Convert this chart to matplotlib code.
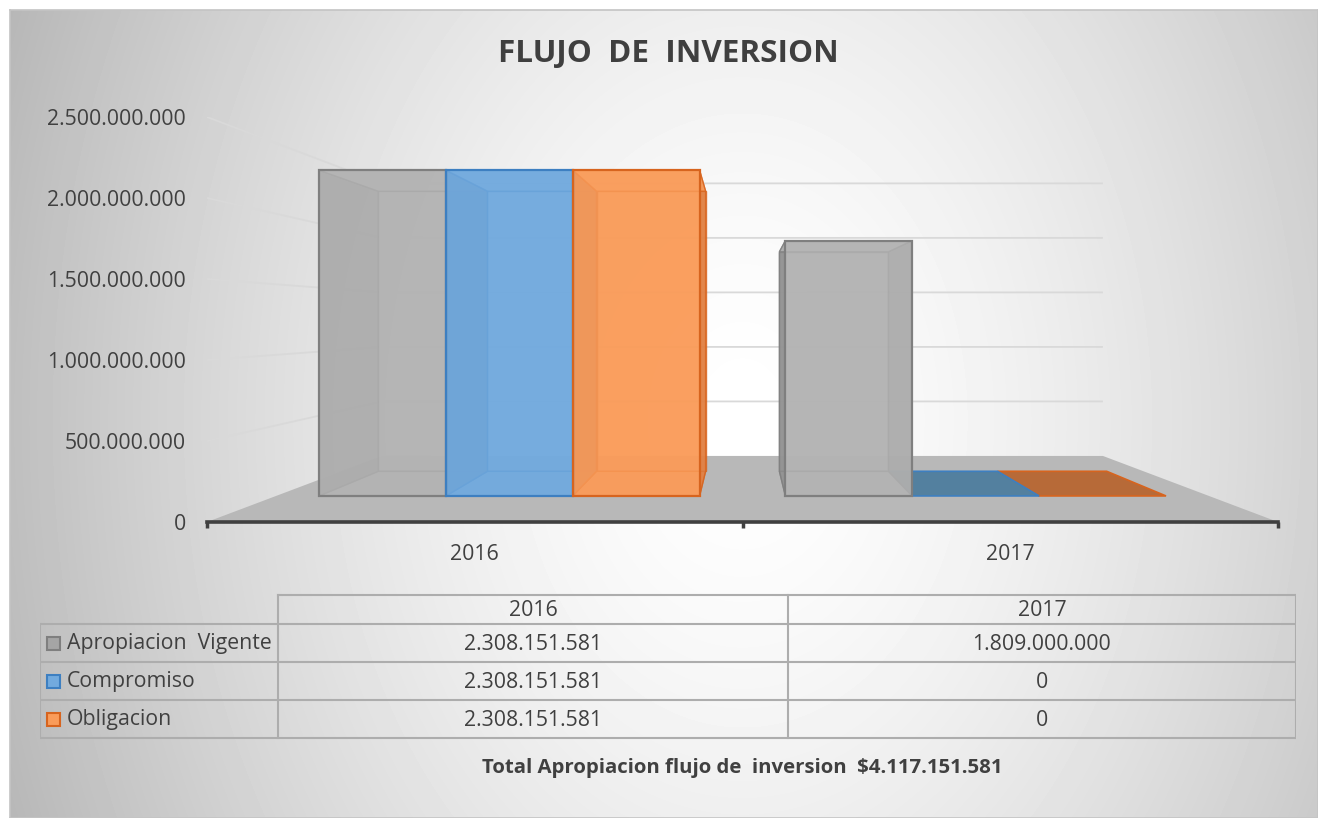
import numpy as np
import matplotlib
matplotlib.use("Agg")
import matplotlib.pyplot as plt
from matplotlib.patches import Polygon, Rectangle
from matplotlib.ticker import FuncFormatter

plt.rcParams["font.family"] = ["Open Sans", "DejaVu Sans"]

# data
years = ["2016", "2017"]
series = ["Apropiacion  Vigente", "Compromiso", "Obligacion"]
apropiacion = [2308151581, 1809000000]
compromiso = [2308151581, 0]
obligacion = [2308151581, 0]
y_ticks = [0, 500000000, 1000000000, 1500000000, 2000000000, 2500000000]
title = "FLUJO  DE  INVERSION"
total_text = "Total Apropiacion flujo de  inversion  $4.117.151.581"

values = [apropiacion, compromiso, obligacion]

# colours per series
face_c = ["#b3b3b3", "#72aade", "#fa9c5a"]
side_c = ["#8c8c8c", "#5b90c6", "#dc7c40"]
flat_c = ["#a5a5a5", "#53809f", "#b76a38"]
edge_c = ["#7f7f7f", "#3d7fc1", "#d7641e"]
text_c = "#404040"

W, H = 1318, 818
fig = plt.figure(figsize=(W / 100, H / 100), dpi=100)


def px(x0, y0, x1, y1):
    # pixel box (top-left origin) -> figure fraction rect
    return [x0 / W, 1 - y1 / H, (x1 - x0) / W, (y1 - y0) / H]


def dots(v, pos=None):
    return f"{int(v):,}".replace(",", ".")


# radial gradient background
bg = fig.add_axes(px(10, 10, W, H))
gx, gy = np.meshgrid(np.arange(10, W), np.arange(10, H))
r = np.sqrt(((gx - 742) / 660.0) ** 2 + ((gy - 420) / 900.0) ** 2)
shade = np.clip(255 - 55 * r ** 1.5, 0, 255) / 255.0
bg.imshow(shade, cmap="gray", vmin=0, vmax=1, aspect="auto")
bg.set_xticks([])
bg.set_yticks([])
for sp in bg.spines.values():
    sp.set_color("#c4c4c4")
    sp.set_linewidth(1.2)

# chart axes: front plane of the floor, 0 at the axis line
ax = fig.add_axes(px(207, 117, 1278, 522))
ax.set_xlim(-0.5, 1.5)
ax.set_ylim(0, 2500000000)
ax.patch.set_alpha(0)

# simple perspective: shrink towards a vanishing point
VX, VY = 0.5, 1.247e9
S_BAR_FRONT, S_BAR_BACK, S_WALL = 0.871, 0.749, 0.673
BAR_W = 0.272


def proj(x, v, s):
    return (VX + s * (x - VX), VY + s * (v - VY))


# floor
floor = [proj(-0.5, 0, 1), proj(1.5, 0, 1), proj(1.5, 0, S_WALL), proj(-0.5, 0, S_WALL)]
ax.add_patch(Polygon(floor, closed=True, fc="#b8b8b8", ec="none", zorder=1))

# gridlines: left side then along the back wall
for v in y_ticks[1:]:
    pts = np.array([proj(-0.5, v, 1), proj(-0.5, v, S_WALL), proj(1.5, v, S_WALL)])
    ax.plot(pts[:, 0], pts[:, 1], color="#d9d9d9", lw=1.3, zorder=2, solid_capstyle="butt")


def draw_bar(x0, v, i):
    x1 = x0 + BAR_W
    sf, sb = S_BAR_FRONT, S_BAR_BACK
    faces = {
        "back": [proj(x0, 0, sb), proj(x1, 0, sb), proj(x1, v, sb), proj(x0, v, sb)],
        "bottom": [proj(x0, 0, sf), proj(x1, 0, sf), proj(x1, 0, sb), proj(x0, 0, sb)],
        "left": [proj(x0, 0, sf), proj(x0, v, sf), proj(x0, v, sb), proj(x0, 0, sb)],
        "right": [proj(x1, 0, sf), proj(x1, v, sf), proj(x1, v, sb), proj(x1, 0, sb)],
        "top": [proj(x0, v, sf), proj(x1, v, sf), proj(x1, v, sb), proj(x0, v, sb)],
    }
    if v == 0:
        ax.add_patch(Polygon(faces["top"], closed=True, fc=flat_c[i], ec=edge_c[i],
                             lw=1.2, zorder=3))
        return
    for name in ["back", "bottom", "left", "right", "top"]:
        fc = side_c[i] if name in ("left", "right") else face_c[i]
        ax.add_patch(Polygon(faces[name], closed=True, fc=fc, ec=edge_c[i],
                             lw=1.0, alpha=0.8, zorder=3))
    fx0, fb = proj(x0, 0, sf)
    ax.bar(fx0, v * sf, bottom=fb, width=BAR_W * sf, align="edge",
           color=face_c[i], alpha=0.82, zorder=4)
    ax.bar(fx0, v * sf, bottom=fb, width=BAR_W * sf, align="edge",
           fill=False, edgecolor=edge_c[i], lw=1.6, zorder=5)


for j, yr in enumerate(years):
    xs = [j - 0.408 + i * BAR_W for i in range(len(series))]
    order = range(len(series))
    if j > 0:
        order = reversed(list(order))
    for i in order:
        draw_bar(xs[i], values[i][j], i)

# axes styling
ax.set_yticks(y_ticks)
ax.yaxis.set_major_formatter(FuncFormatter(dots))
ax.set_xticks(range(len(years)))
ax.set_xticklabels(years)
ax.set_xticks([-0.5, 0.5, 1.5], minor=True)
ax.tick_params(axis="y", length=0, pad=15, labelsize=15.3, labelcolor=text_c)
ax.tick_params(axis="x", which="major", length=0, pad=16, labelsize=15.3, labelcolor=text_c)
ax.tick_params(axis="x", which="minor", length=4, width=2.5, color="#404040")
for name in ["top", "left", "right"]:
    ax.spines[name].set_visible(False)
ax.spines["bottom"].set_color("#404040")
ax.spines["bottom"].set_linewidth(2.6)
ax.spines["bottom"].set_zorder(6)

# title
fig.text(668 / W, 1 - 54 / H, title, ha="center", va="center", fontsize=22.6,
         fontweight="bold", color="#3f3f3f")

# data table
tab = fig.add_axes(px(40, 590, 1296, 740))
tab.set_xlim(40, 1296)
tab.set_ylim(740, 590)
tab.axis("off")
col_x = [40, 278, 788, 1296]
row_y = [595, 624, 662, 700, 738]
lc = "#adadad"
tab.plot([col_x[1], col_x[3]], [row_y[0], row_y[0]], color=lc, lw=1.5)
for yv in row_y[1:]:
    tab.plot([col_x[0], col_x[3]], [yv, yv], color=lc, lw=1.5)
tab.plot([col_x[0], col_x[0]], [row_y[1], row_y[-1]], color=lc, lw=1.5)
for xv in col_x[1:]:
    tab.plot([xv, xv], [row_y[0], row_y[-1]], color=lc, lw=1.5)

for j, yr in enumerate(years):
    cx = (col_x[j + 1] + col_x[j + 2]) / 2
    tab.text(cx, (row_y[0] + row_y[1]) / 2 + 1, yr, ha="center", va="center",
             fontsize=15.3, color=text_c)
for i, name in enumerate(series):
    cy = (row_y[i + 1] + row_y[i + 2]) / 2
    tab.add_patch(Rectangle((47, cy - 6.5), 13, 13, fc=flat_c[i] if i == 0 else face_c[i],
                            ec=edge_c[i], lw=1.5))
    tab.text(67, cy + 1, name, ha="left", va="center", fontsize=15.3, color=text_c)
    for j in range(len(years)):
        cx = (col_x[j + 1] + col_x[j + 2]) / 2
        tab.text(cx, cy + 1, dots(values[i][j]), ha="center", va="center",
                 fontsize=15.3, color=text_c)

fig.text(742 / W, 1 - 768 / H, total_text, ha="center", va="center", fontsize=14.7,
         fontweight="bold", color=text_c)

fig.savefig("out.png", dpi=100)
